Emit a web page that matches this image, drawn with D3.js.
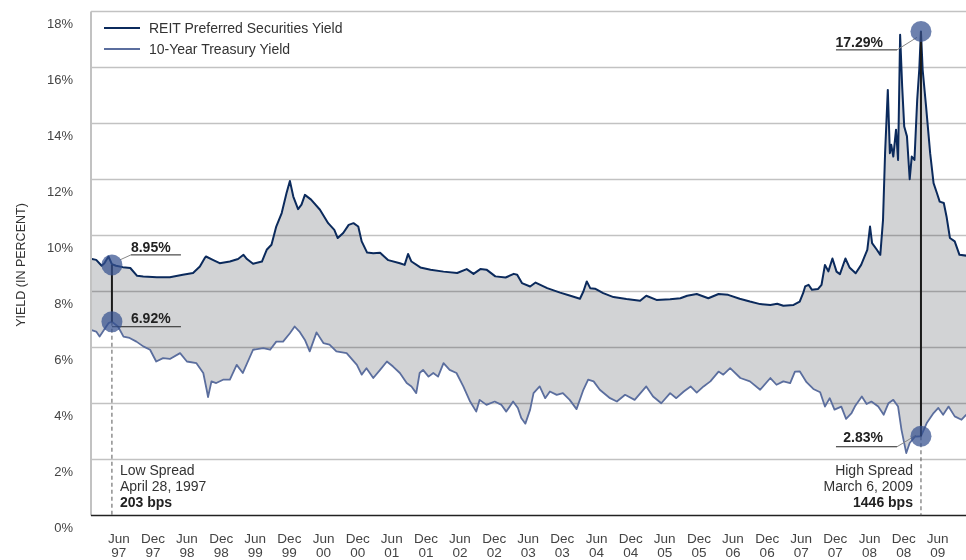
<!DOCTYPE html>
<html>
<head>
<meta charset="utf-8">
<script src="https://cdn.jsdelivr.net/npm/d3@7"></script>
<style>
  body { margin: 0; background: #fff; }
  svg text { font-family: "Liberation Sans", Arial, sans-serif; fill: #333; }
  .gridLine { stroke: #c2c2c2; stroke-width: 1.5; }
  .spreadArea { fill: #d2d3d5; mix-blend-mode: multiply; }
  .reitLine { fill: none; stroke: #0b2a5c; stroke-width: 2; stroke-linejoin: round; }
  .tsyLine { fill: none; stroke: #5b6e9e; stroke-width: 1.8; stroke-linejoin: round; }
  .marker { fill: #34508f; fill-opacity: 0.72; }
  .valueText { font-size: 14px; font-weight: bold; fill: #222; }
  .noteText { font-size: 14px; fill: #333; }
</style>
</head>
<body>
<div id="chart"></div>
<script>
// REIT preferred securities yield, [decimal year, %]
var reitYield = [
  [1997.01, 9.17], [1997.09, 9.13], [1997.17, 8.92], [1997.21, 9.01], [1997.27, 9.25], [1997.32, 8.98],
  [1997.38, 8.92], [1997.48, 8.87], [1997.59, 8.84], [1997.69, 8.56], [1997.78, 8.54], [1997.98, 8.51],
  [1998.17, 8.51], [1998.36, 8.60], [1998.51, 8.66], [1998.61, 8.89], [1998.68, 9.19], [1998.70, 9.25],
  [1998.80, 9.13], [1998.90, 9.01], [1999.05, 9.07], [1999.17, 9.16], [1999.25, 9.31], [1999.30, 9.16],
  [1999.39, 8.99], [1999.52, 9.07], [1999.59, 9.49], [1999.66, 9.67], [1999.73, 10.32], [1999.81, 10.80],
  [1999.88, 11.51], [1999.93, 11.95], [1999.98, 11.39], [2000.05, 10.94], [2000.10, 11.10], [2000.15, 11.45],
  [2000.24, 11.28], [2000.37, 10.92], [2000.49, 10.44], [2000.58, 10.20], [2000.63, 9.91], [2000.71, 10.09],
  [2000.79, 10.38], [2000.86, 10.44], [2000.93, 10.32], [2000.98, 9.79], [2001.06, 9.39], [2001.15, 9.37],
  [2001.25, 9.38], [2001.37, 9.12], [2001.54, 9.01], [2001.61, 8.95], [2001.66, 9.34], [2001.71, 9.07],
  [2001.84, 8.86], [2001.99, 8.78], [2002.18, 8.71], [2002.38, 8.66], [2002.52, 8.80], [2002.62, 8.63],
  [2002.72, 8.80], [2002.81, 8.78], [2002.94, 8.54], [2003.09, 8.50], [2003.21, 8.63], [2003.26, 8.60],
  [2003.33, 8.30], [2003.45, 8.18], [2003.53, 8.32], [2003.70, 8.12], [2003.89, 7.96], [2004.04, 7.85],
  [2004.18, 7.74], [2004.23, 8.00], [2004.28, 8.36], [2004.33, 8.12], [2004.40, 8.10], [2004.52, 7.94],
  [2004.67, 7.80], [2004.86, 7.73], [2005.06, 7.67], [2005.15, 7.85], [2005.30, 7.70], [2005.50, 7.72],
  [2005.65, 7.76], [2005.75, 7.85], [2005.89, 7.91], [2006.06, 7.76], [2006.21, 7.91], [2006.35, 7.88],
  [2006.52, 7.74], [2006.67, 7.64], [2006.82, 7.55], [2006.97, 7.52], [2007.07, 7.56], [2007.16, 7.49],
  [2007.31, 7.52], [2007.40, 7.64], [2007.45, 7.94], [2007.48, 8.18], [2007.53, 8.24], [2007.58, 8.06],
  [2007.67, 8.09], [2007.72, 8.24], [2007.77, 8.95], [2007.82, 8.72], [2007.88, 9.18], [2007.94, 8.71],
  [2007.99, 8.62], [2008.07, 9.18], [2008.13, 8.86], [2008.22, 8.65], [2008.30, 8.95], [2008.39, 9.49],
  [2008.43, 10.32], [2008.46, 9.73], [2008.53, 9.49], [2008.58, 9.31], [2008.62, 10.56], [2008.65, 12.94],
  [2008.69, 15.20], [2008.72, 12.94], [2008.74, 13.24], [2008.77, 12.82], [2008.81, 13.78], [2008.84, 12.70],
  [2008.87, 17.17], [2008.90, 15.32], [2008.93, 13.89], [2008.97, 13.54], [2009.01, 12.01], [2009.04, 12.82],
  [2009.08, 12.70], [2009.12, 14.85], [2009.15, 15.92], [2009.175, 17.29], [2009.20, 15.92], [2009.25, 14.61],
  [2009.31, 12.94], [2009.36, 11.87], [2009.41, 11.51], [2009.45, 11.21], [2009.51, 11.16], [2009.55, 10.68],
  [2009.60, 9.91], [2009.67, 9.79], [2009.74, 9.31], [2009.84, 9.28]
];

// 10-year treasury yield, [decimal year, %]
var treasuryYield = [
  [1997.01, 6.63], [1997.09, 6.57], [1997.14, 6.39], [1997.22, 6.69], [1997.27, 6.87], [1997.32, 6.92],
  [1997.41, 6.75], [1997.49, 6.39], [1997.58, 6.34], [1997.68, 6.21], [1997.78, 6.04], [1997.88, 5.92],
  [1997.97, 5.50], [1998.07, 5.62], [1998.17, 5.59], [1998.32, 5.80], [1998.42, 5.50], [1998.56, 5.44],
  [1998.66, 5.09], [1998.71, 4.49], [1998.73, 4.23], [1998.78, 4.79], [1998.85, 4.73], [1998.95, 4.85],
  [1999.05, 4.85], [1999.15, 5.38], [1999.24, 5.09], [1999.39, 5.92], [1999.54, 5.98], [1999.64, 5.92],
  [1999.73, 6.21], [1999.83, 6.21], [1999.93, 6.51], [2000.00, 6.75], [2000.07, 6.57], [2000.15, 6.27],
  [2000.22, 5.86], [2000.32, 6.54], [2000.42, 6.16], [2000.51, 6.10], [2000.61, 5.86], [2000.76, 5.80],
  [2000.91, 5.38], [2000.98, 5.03], [2001.05, 5.26], [2001.15, 4.91], [2001.25, 5.20], [2001.35, 5.50],
  [2001.44, 5.32], [2001.54, 5.09], [2001.64, 4.73], [2001.71, 4.61], [2001.78, 4.37], [2001.83, 5.09],
  [2001.88, 5.20], [2001.96, 4.96], [2002.03, 5.09], [2002.10, 4.96], [2002.18, 5.44], [2002.27, 5.20],
  [2002.37, 5.09], [2002.47, 4.61], [2002.57, 4.07], [2002.66, 3.71], [2002.71, 4.13], [2002.81, 3.95],
  [2002.93, 4.07], [2003.03, 3.95], [2003.10, 3.71], [2003.20, 4.07], [2003.27, 3.84], [2003.32, 3.48],
  [2003.38, 3.28], [2003.45, 3.78], [2003.50, 4.37], [2003.59, 4.61], [2003.67, 4.19], [2003.74, 4.43],
  [2003.84, 4.31], [2003.93, 4.37], [2004.03, 4.13], [2004.13, 3.80], [2004.23, 4.49], [2004.30, 4.85],
  [2004.38, 4.79], [2004.47, 4.49], [2004.62, 4.19], [2004.72, 4.07], [2004.84, 4.31], [2004.98, 4.13],
  [2005.15, 4.61], [2005.25, 4.25], [2005.37, 4.01], [2005.50, 4.37], [2005.59, 4.19], [2005.70, 4.43],
  [2005.80, 4.61], [2005.89, 4.39], [2005.99, 4.61], [2006.09, 4.79], [2006.21, 5.14], [2006.28, 5.03],
  [2006.38, 5.26], [2006.53, 4.91], [2006.67, 4.79], [2006.82, 4.49], [2006.97, 4.91], [2007.06, 4.67],
  [2007.16, 4.79], [2007.26, 4.73], [2007.33, 5.14], [2007.40, 5.15], [2007.50, 4.76], [2007.60, 4.52],
  [2007.70, 4.40], [2007.77, 3.89], [2007.84, 4.19], [2007.91, 3.78], [2008.01, 3.89], [2008.08, 3.45],
  [2008.16, 3.66], [2008.21, 3.90], [2008.31, 4.25], [2008.38, 3.98], [2008.45, 4.07], [2008.55, 3.89],
  [2008.63, 3.60], [2008.70, 4.01], [2008.77, 4.13], [2008.84, 3.89], [2008.89, 3.06], [2008.96, 2.23],
  [2009.01, 2.59], [2009.09, 2.82], [2009.175, 2.83], [2009.26, 3.30], [2009.36, 3.66], [2009.43, 3.84],
  [2009.50, 3.60], [2009.58, 3.89], [2009.67, 3.54], [2009.77, 3.42], [2009.84, 3.60]
];

var yTicks = [0, 2, 4, 6, 8, 10, 12, 14, 16, 18];
var xTickLabels = ["Jun 97", "Dec 97", "Jun 98", "Dec 98", "Jun 99", "Dec 99", "Jun 00", "Dec 00",
  "Jun 01", "Dec 01", "Jun 02", "Dec 02", "Jun 03", "Dec 03", "Jun 04", "Dec 04", "Jun 05", "Dec 05",
  "Jun 06", "Dec 06", "Jun 07", "Dec 07", "Jun 08", "Dec 08", "Jun 09"];

var seriesNames = ["REIT Preferred Securities Yield", "10-Year Treasury Yield"];

// spread call-outs
var spreads = [
  {label: "Low Spread", dateText: "April 28, 1997", date: "1997-04-28", reit: 8.95, tsy: 6.92, bps: 203},
  {label: "High Spread", dateText: "March 6, 2009", date: "2009-03-06", reit: 17.29, tsy: 2.83, bps: 1446}
];

function yearToDate(y) {
  var yr = Math.floor(y);
  var start = new Date(yr, 0, 1), end = new Date(yr + 1, 0, 1);
  return new Date(+start + (y - yr) * (end - start));
}

var width = 966, height = 560;
var plot = {left: 91, right: 966, top: 11.5, bottom: 515.5};

var svg = d3.select("#chart").append("svg")
  .attr("width", width)
  .attr("height", height);

var x = d3.scaleTime()
  .domain([new Date(1997, 0, 6), new Date(2009, 10, 2)])
  .range([plot.left, plot.right]);

var y = d3.scaleLinear()
  .domain([0, 18])
  .range([plot.bottom, plot.top]);

// gridlines
svg.append("g").selectAll("line")
  .data(yTicks.filter(function(d){ return d > 0; }))
  .enter()
  .append("line")
  .attr("class", "gridLine")
  .attr("x1", plot.left)
  .attr("x2", plot.right)
  .attr("y1", function(d){ return y(d); })
  .attr("y2", function(d){ return y(d); });

// fill between the two yields
var line = d3.line()
  .x(function(d){ return x(yearToDate(d[0])); })
  .y(function(d){ return y(d[1]); });

svg.append("path")
  .attr("class", "spreadArea")
  .attr("d", line(reitYield.concat(treasuryYield.slice().reverse())) + "Z");

svg.append("path")
  .attr("class", "tsyLine")
  .attr("d", line(treasuryYield));

svg.append("path")
  .attr("class", "reitLine")
  .attr("d", line(reitYield));

// left spine and base line
svg.append("line")
  .attr("x1", plot.left).attr("x2", plot.left)
  .attr("y1", plot.top).attr("y2", plot.bottom)
  .attr("stroke", "#c2c2c2").attr("stroke-width", 2);

svg.append("line")
  .attr("x1", plot.left).attr("x2", plot.right)
  .attr("y1", y(0)).attr("y2", y(0))
  .attr("stroke", "#222").attr("stroke-width", 1.5);

// y axis
var yAxis = d3.axisLeft(y)
  .tickValues(yTicks)
  .tickSize(0)
  .tickFormat(function(d){ return d + "%"; });

var yG = svg.append("g")
  .attr("transform", "translate(" + (plot.left - 15) + ",0)")
  .call(yAxis);
yG.select(".domain").remove();
yG.selectAll("text")
  .attr("dy", "1.2em")
  .style("font-size", "13px")
  .style("fill", "#444");

svg.append("text")
  .attr("transform", "translate(25," + 265 + ") rotate(-90)")
  .attr("text-anchor", "middle")
  .style("font-size", "12.5px")
  .text("YIELD (IN PERCENT)");

// x axis
var parseTick = d3.timeParse("%b %y");
var xAxis = d3.axisBottom(x)
  .tickValues(xTickLabels.map(function(d){ return parseTick(d); }))
  .tickSize(0)
  .tickFormat(function(d, i){ return xTickLabels[i]; });

var xG = svg.append("g")
  .attr("transform", "translate(0," + plot.bottom + ")")
  .call(xAxis);
xG.select(".domain").remove();
xG.selectAll("text").each(function(d, i){
  var parts = xTickLabels[i].split(" ");
  var t = d3.select(this).text(null)
    .attr("y", 0).attr("dy", null)
    .style("font-size", "13.5px")
    .style("fill", "#444");
  t.append("tspan").attr("x", 0).attr("y", 27).text(parts[0]);
  t.append("tspan").attr("x", 0).attr("y", 41).text(parts[1]);
});

// legend
var legendColors = ["#0b2a5c", "#5b6e9e"];
var legend = svg.append("g").selectAll("g")
  .data(seriesNames)
  .enter()
  .append("g")
  .attr("transform", function(d, i){ return "translate(104," + (28 + i * 21) + ")"; });

legend.append("line")
  .attr("x1", 0).attr("x2", 36)
  .attr("stroke", function(d, i){ return legendColors[i]; })
  .attr("stroke-width", 2.2);

legend.append("text")
  .attr("x", 45)
  .attr("dy", "0.36em")
  .style("font-size", "14px")
  .text(function(d){ return d; });

// spread call-outs
var parseDay = d3.timeParse("%Y-%m-%d");

spreads.forEach(function(s, i){
  var cx = x(parseDay(s.date));
  var yTop = y(s.reit), yBot = y(s.tsy);
  var g = svg.append("g");

  g.append("line")
    .attr("x1", cx).attr("x2", cx)
    .attr("y1", yBot).attr("y2", y(0))
    .attr("stroke", "#555").attr("stroke-width", 1)
    .attr("stroke-dasharray", "4,3");

  g.append("line")
    .attr("x1", cx).attr("x2", cx)
    .attr("y1", yTop).attr("y2", yBot)
    .attr("stroke", "#1a1a1a").attr("stroke-width", 2);

  var leader = g.append("g")
    .attr("stroke", "#222").attr("stroke-width", 1);

  if (i === 0) {
    leader.append("line").attr("x1", cx + 8).attr("y1", yTop - 5).attr("x2", cx + 19).attr("y2", yTop - 10).attr("stroke", "#888");
    leader.append("line").attr("x1", cx + 19).attr("y1", yTop - 10).attr("x2", cx + 69).attr("y2", yTop - 10);
    g.append("text").attr("class", "valueText").attr("x", cx + 19).attr("y", yTop - 13).text(s.reit.toFixed(2) + "%");

    leader.append("line").attr("x1", cx).attr("y1", yBot + 5).attr("x2", cx + 69).attr("y2", yBot + 5);
    g.append("text").attr("class", "valueText").attr("x", cx + 19).attr("y", yBot + 1).text(s.tsy.toFixed(2) + "%");
  } else {
    leader.append("line").attr("x1", cx - 24).attr("y1", yTop + 18.5).attr("x2", cx - 4).attr("y2", yTop + 6).attr("stroke", "#888");
    leader.append("line").attr("x1", cx - 85).attr("y1", yTop + 18.5).attr("x2", cx - 24).attr("y2", yTop + 18.5);
    g.append("text").attr("class", "valueText").attr("x", cx - 38).attr("y", yTop + 15.5)
      .attr("text-anchor", "end").text(s.reit.toFixed(2) + "%");

    leader.append("line").attr("x1", cx - 24).attr("y1", yBot + 10.5).attr("x2", cx - 5).attr("y2", yBot - 1).attr("stroke", "#888");
    leader.append("line").attr("x1", cx - 85).attr("y1", yBot + 10.5).attr("x2", cx - 24).attr("y2", yBot + 10.5);
    g.append("text").attr("class", "valueText").attr("x", cx - 38).attr("y", yBot + 6)
      .attr("text-anchor", "end").text(s.tsy.toFixed(2) + "%");
  }

  g.selectAll("circle")
    .data([yTop, yBot])
    .enter()
    .append("circle")
    .attr("class", "marker")
    .attr("cx", cx)
    .attr("cy", function(d){ return d; })
    .attr("r", 10.5);

  var note = g.append("text")
    .attr("class", "noteText")
    .attr("text-anchor", i === 0 ? "start" : "end");
  var nx = i === 0 ? cx + 8 : cx - 8;
  note.append("tspan").attr("x", nx).attr("y", y(0) - 40.5).text(s.label);
  note.append("tspan").attr("x", nx).attr("y", y(0) - 24.5).text(s.dateText);
  note.append("tspan").attr("x", nx).attr("y", y(0) - 8.5)
    .style("font-weight", "bold").style("fill", "#222").text(s.bps + " bps");
});
</script>
</body>
</html>
